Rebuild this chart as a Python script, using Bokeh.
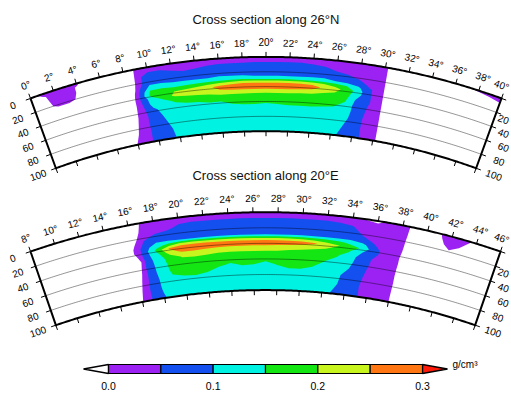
import numpy as np
from bokeh.plotting import figure
from bokeh.models import Range1d
from bokeh.embed import file_html
from bokeh.resources import INLINE
from bokeh.core.properties import value

# ---------------- data (density anomaly, units of 0.01 g/cm^3) ----------------
depth_km = [0, 5, 12, 20, 28, 33, 38, 43, 50, 58, 66, 75, 87, 100]
NO_DATA = [-10, -10, -10, -10, -10, -10, -10, -10, -10, -10, -10, -10, -10, -10]

lon_26N = list(range(0, 41))
# one list per longitude, values from depth 0 down to 100 km
rho_26N = [
    [-5, -5, -5, -5, -5, -5, -5, -5, -5, -5, -5, -5, -5, -5],          # 0
    [3, -1, -2, -3, -5, -5, -5, -5, -5, -5, -5, -5, -5, -5],           # 1
    [3, 3, 3, 2, -4, -5, -5, -5, -5, -5, -5, -5, -5, -5],              # 2
    [3, 3, 3, 2, -4, -5, -5, -5, -5, -5, -5, -5, -5, -5],              # 3
    [1.5, -0.8, -0.8, -1.5, -5, -5, -5, -5, -5, -5, -5, -5, -5, -5],   # 4
    [-5, -5, -5, -5, -5, -5, -5, -5, -5, -5, -5, -5, -5, -5],          # 5
    [-5, -5, -5, -5, -5, -5, -5, -5, -5, -5, -5, -5, -5, -5],          # 6
    [-5, -5, -5, -5, -5, -5, -5, -5, -5, -5, -5, -5, -5, -5],          # 7
    [-20, -18, -15, -12, -10, -8, -7, -6, -5, -4, -3, -2, -1, 0.3],    # 8
    [3, 3, 3, 3, 4, 5, 5.5, 5, 4, 3.5, 3, 3, 3, 3],                    # 9
    [3, 4, 8, 8, 12, 16, 17, 13, 12, 9, 8, 8, 7.5, 7.5],               # 10
    [3, 4, 8, 8, 12, 17, 19, 17, 13, 12, 11, 10, 8.5, 8],              # 11
    [3, 3, 6, 8, 11, 16, 20, 21, 16, 13, 13, 12, 12, 11],              # 12
    [3, 3, 5, 8, 11, 17, 21, 22, 17, 14, 13, 13, 12, 12],              # 13
    [3, 3, 5.5, 8, 11, 18, 22, 22, 18, 14, 13, 13, 13, 12],            # 14
    [3, 3, 7, 8, 11, 19, 24, 23, 18, 15, 13, 13, 13, 12],              # 15
    [3, 4, 7, 8, 12, 20, 27, 24.5, 19, 15, 14, 13, 13, 13],            # 16
    [3, 4, 7, 8, 12, 21.5, 28.5, 25, 19, 16, 14, 13, 13, 13],          # 17
    [3, 4, 7, 8, 12, 23, 29, 25, 19, 16, 14.5, 13, 13, 13],            # 18
    [3, 4, 8, 8, 11, 23, 29, 25, 18.5, 16, 14.5, 13, 13, 13],          # 19
    [3, 4, 8, 8, 11, 23, 29, 25, 18.5, 16, 14, 13, 13, 13],            # 20
    [3, 4, 8, 8, 11, 23, 29, 25, 18.5, 16, 14.5, 13, 13, 13],          # 21
    [3, 4, 8, 8, 11, 23, 29, 25, 18.5, 16, 14.8, 13, 13, 13],          # 22
    [3, 4, 8, 8, 11, 22.5, 29, 24.5, 18, 16, 14.8, 13, 13, 13],        # 23
    [3, 3.5, 7, 8, 11, 21.5, 28, 23.5, 18, 16, 14.8, 13, 13, 13],      # 24
    [3, 3, 6, 8, 11, 20, 24, 21, 18, 16, 14.5, 13, 13, 13],            # 25
    [3, 3, 4, 7, 10, 18, 22, 20, 17, 16, 14, 13, 13, 12],              # 26
    [3, 3, 3, 6, 9, 15, 18, 17, 16, 14, 13, 12, 10, 8],                # 27
    [2, 3, 3, 4, 8, 11, 13, 12, 9, 8, 8, 7.5, 7, 7],                   # 28
    [2, 2, 3, 3, 3.5, 5.5, 5.5, 5.5, 5.5, 5, 4.5, 4, 4, 4],            # 29
    [3, 3, 3, 3, 3, 3, 3, 3, 3, 3, 3, 3, 3, 3],                        # 30
    NO_DATA,                                                           # 31
    NO_DATA,                                                           # 32
    NO_DATA,                                                           # 33
    NO_DATA,                                                           # 34
    NO_DATA,                                                           # 35
    NO_DATA,                                                           # 36
    [-1, -5, -10, -10, -10, -10, -10, -10, -10, -10, -10, -10, -10, -10],  # 37
    [2, -4, -10, -10, -10, -10, -10, -10, -10, -10, -10, -10, -10, -10],   # 38
    [3, -1, -5, -10, -10, -10, -10, -10, -10, -10, -10, -10, -10, -10],    # 39
    [3, 1, -4, -10, -10, -10, -10, -10, -10, -10, -10, -10, -10, -10],     # 40
]

lon_20E = list(range(8, 47))
rho_20E = [
    NO_DATA,                                                           # 8
    NO_DATA,                                                           # 9
    NO_DATA,                                                           # 10
    NO_DATA,                                                           # 11
    NO_DATA,                                                           # 12
    NO_DATA,                                                           # 13
    NO_DATA,                                                           # 14
    NO_DATA,                                                           # 15
    [-25, -15, -8, -4, -1.5, -0.5, -0.5, -3, -8, -6, -4, -2.5, -1.2, -0.3],  # 16
    [3, 3, 3, 4, 6, 8, 8, 8, 7, 7, 6, 6, 6, 5.5],                      # 17
    [3, 3, 3.5, 6, 10, 13, 17, 14, 13, 12, 12, 11, 10.5, 9.5],         # 18
    [3, 3, 4, 7, 10, 17, 25.5, 22.5, 17, 16.5, 15.8, 14.5, 12.5, 12],  # 19
    [3, 4, 6, 8, 9, 20.5, 29, 26, 20.5, 17.5, 16.5, 15, 13, 12.5],     # 20
    [3, 4, 7, 8, 9, 20.5, 29, 26, 20.8, 17.5, 16.5, 15.2, 13, 12.5],   # 21
    [3, 4, 7, 8, 9, 20.5, 29, 25.5, 20.5, 17, 16.5, 14.7, 13, 12.5],   # 22
    [3, 4, 7, 8, 9, 20.5, 29, 25, 20, 16.5, 15.3, 14, 13, 12.5],       # 23
    [3, 4, 7, 8, 9, 20, 29, 24.5, 19.7, 16, 14.7, 13.5, 13, 12.5],     # 24
    [3, 4, 7, 8, 9, 20, 29, 24.5, 19.7, 16, 15.2, 14, 13, 12.5],       # 25
    [3, 4, 7, 8, 9, 20, 29, 24.5, 19.7, 16, 15.1, 14, 13, 12.5],       # 26
    [3, 4, 7, 8, 9, 20, 29, 24.5, 19.7, 15.8, 14.5, 13.5, 13, 12.5],   # 27
    [3, 4, 7, 8, 9, 20, 28.5, 24, 19.5, 16, 15.2, 14, 13, 12.5],       # 28
    [3, 4, 7, 8, 9, 19.5, 28.5, 23.5, 18.5, 16.5, 15.8, 14.5, 13, 12.5],  # 29
    [3, 4, 7, 8, 9, 19, 27.5, 22.5, 18, 16.5, 15.8, 14.5, 13, 12.5],   # 30
    [3, 4, 7, 8, 9, 18.5, 26, 21.5, 17, 16, 15.3, 14, 13, 12.5],       # 31
    [3, 4, 7, 8, 9, 17, 23, 20.3, 17, 15.3, 14, 13, 12.5, 12],         # 32
    [3, 4, 6, 8, 9, 16, 20.5, 18, 15.5, 14, 13, 12, 11, 9],            # 33
    [3, 3, 5.5, 7, 9, 14, 17, 15.5, 13, 12, 10.5, 8, 7.5, 7],          # 34
    [-0.5, 3, 3, 4.5, 6.5, 12, 14.5, 10.5, 8, 7, 6.5, 6, 5.5, 5.5],    # 35
    [-3, 2, 3, 3, 4.5, 5.5, 7, 6.5, 4.8, 4.5, 4, 3.5, 3, 3],           # 36
    [2, 3, 3, 3, 3, 3, 3, 3, 3, 3, 3, 3, 3, 3],                        # 37
    [3, 3, 3, 3, 3, 3, 2.5, 2, 2, 1.5, 1, 1, 0.5, 0],                  # 38
    [-2, -2.5, -3, -4, -5, -6, -7, -8, -9, -10, -10, -10, -10, -10],   # 39
    NO_DATA,                                                           # 40
    [-0.5, -1, -3, -5, -10, -10, -10, -10, -10, -10, -10, -10, -10, -10],  # 41
    [3, 3, 3, -1, -10, -10, -10, -10, -10, -10, -10, -10, -10, -10],       # 42
    [3, 1, -1, -4, -10, -10, -10, -10, -10, -10, -10, -10, -10, -10],      # 43
    [-2, -3, -5, -10, -10, -10, -10, -10, -10, -10, -10, -10, -10, -10],   # 44
    NO_DATA,                                                           # 45
    NO_DATA,                                                           # 46
]

levels = [0.0, 0.05, 0.10, 0.15, 0.20, 0.25, 0.30]
level_colors = ["#9b22f2", "#1450f0", "#00f2e2", "#14e614", "#c8f51e", "#ff7612"]
above_color = "#ff1a0a"
below_color = "white"
cbar_ticks = [0.0, 0.1, 0.2, 0.3]
cbar_labels = ["0.0", "0.1", "0.2", "0.3"]
depth_ticks = [0, 20, 40, 60, 80, 100]
grid_depths = [20, 40, 60, 80]
lon_tick_step = 2
titles = ["Cross section along 26°N", "Cross section along 20°E"]
unit_label = "g/cm³"

# ---------------- layout ----------------
W, H = 511, 394
FONT = value("Liberation Sans")

p = figure(width=W, height=H, x_range=Range1d(0, W), y_range=Range1d(0, H),
           output_backend="svg", toolbar_location=None, min_border=0)
p.axis.visible = False
p.grid.visible = False
p.outline_line_color = None
p.background_fill_color = "white"
p.border_fill_color = "white"

geoms = [
    dict(cx=265.5, cy=745.0, r0=688.6, r100=614.3, title_y=18.5),
    dict(cx=265.0, cy=933.5, r0=721.8, r100=643.9, title_y=174.5),
]
sections = [(lon_26N, rho_26N), (lon_20E, rho_20E)]

TICK = 5.0
LAB_LON = 14.0
LAB_DEP = 19.0
FS = 10.0          # label font size (px)
RIGHT_LIMIT = W - 1.5


def text_halfwidth(s, fs, ang):
    w = sum(0.4 if ch == "°" else 0.556 for ch in s) * fs
    h = 0.72 * fs
    return 0.5 * w * abs(np.cos(ang)) + 0.5 * h * abs(np.sin(ang))


for (lons, rho), geo, title in zip(sections, geoms, titles):
    lo, hi = float(lons[0]), float(lons[-1])
    mid = 0.5 * (lo + hi)
    r0, r100 = geo["r0"], geo["r100"]

    def polar(lon, r, geo=geo, mid=mid):
        th = np.radians(np.asarray(lon, float) - mid)
        return geo["cx"] + r * np.sin(th), H - geo["cy"] + r * np.cos(th)

    def rad(d, r0=r0, r100=r100):
        return r0 - (r0 - r100) * np.asarray(d, float) / 100.0

    LON, DEP = np.meshgrid(np.array(lons, float), np.array(depth_km, float))
    X, Y = polar(LON, rad(DEP))
    Z = np.array(rho, float).T / 100.0
    for k, col in enumerate(level_colors):
        p.contour(x=X, y=Y, z=Z, levels=[levels[k], 9.0], fill_color=[col])

    fine = np.linspace(lo, hi, 240)
    gxs, gys = [], []
    for d in grid_depths:
        gx, gy = polar(fine, rad(d))
        gxs.append(list(gx)); gys.append(list(gy))
    p.multi_line(gxs, gys, line_color="black", line_width=0.6, line_alpha=0.7)

    tx, ty = polar(fine, r0)
    bx, by = polar(fine[::-1], r100)
    fx = list(tx) + list(bx) + [tx[0]]
    fy = list(ty) + list(by) + [ty[0]]
    p.line(fx, fy, line_color="black", line_width=2, line_join="miter")

    # ticks
    txs, tys = [], []
    tick_lons = np.arange(lo, hi + 0.01, lon_tick_step)
    for lon in tick_lons:
        a = polar(lon, r0); b = polar(lon, r0 + TICK)
        txs.append([float(a[0]), float(b[0])]); tys.append([float(a[1]), float(b[1])])
        a = polar(lon, r100); b = polar(lon, r100 - TICK)
        txs.append([float(a[0]), float(b[0])]); tys.append([float(a[1]), float(b[1])])
    thL = np.radians(lo - mid); thR = np.radians(hi - mid)
    outL = (-np.cos(thL), np.sin(thL))
    outR = (np.cos(thR), -np.sin(thR))
    dl_x, dl_y, dl_t, dl_a = [], [], [], []
    for d in depth_ticks:
        for side, edge, out, th in (("L", lo, outL, thL), ("R", hi, outR, thR)):
            px, py = polar(edge, rad(d))
            px, py = float(px), float(py)
            txs.append([px, px + TICK * out[0]]); tys.append([py, py + TICK * out[1]])
            cx_, cy_ = px + LAB_DEP * out[0], py + LAB_DEP * out[1]
            if side == "R":
                if d == 0:
                    continue  # falls beyond the picture edge in the original
                hw = text_halfwidth(str(d), FS, th)
                cx_ = min(cx_, RIGHT_LIMIT - hw)
            dl_x.append(cx_); dl_y.append(cy_)
            dl_t.append(str(d)); dl_a.append(-th)
    p.multi_line(txs, tys, line_color="black", line_width=1)

    # longitude labels
    lx, ly = polar(tick_lons, r0 + LAB_LON)
    lab = [f"{int(v)}°" for v in tick_lons]
    angs = list(-np.radians(tick_lons - mid))
    lx = [min(float(x), RIGHT_LIMIT - text_halfwidth(s, FS, a)) for x, s, a in zip(lx, lab, angs)]
    p.text(x=lx, y=list(ly), text=lab, angle=angs, text_font=FONT,
           text_font_size=f"{FS}px", text_align="center", text_baseline="middle",
           text_color="black")
    p.text(x=dl_x, y=dl_y, text=dl_t, angle=dl_a, text_font=FONT,
           text_font_size=f"{FS}px", text_align="center", text_baseline="middle",
           text_color="black")
    p.text(x=[geo["cx"]], y=[H - geo["title_y"]], text=[title], text_font=FONT,
           text_font_size="13px", text_align="center", text_baseline="middle",
           text_color="#111111")

# ---------------- colour bar ----------------
cb_x0, cb_x1 = 108.0, 422.0
cb_top, cb_bot = H - 364.0, H - 373.0
cb_mid = 0.5 * (cb_top + cb_bot)
vmax = levels[-1]


def cbx(v):
    return cb_x0 + (cb_x1 - cb_x0) * v / vmax


tri = 25.0
p.patch([cbx(levels[0]), cbx(levels[0]) - tri, cbx(levels[0])], [cb_top, cb_mid, cb_bot],
        fill_color=below_color, line_color="black", line_width=1.3)
p.patch([cbx(vmax), cbx(vmax) + tri, cbx(vmax)], [cb_top, cb_mid, cb_bot],
        fill_color=above_color, line_color="black", line_width=1.3)
p.quad(left=[cbx(v) for v in levels[:-1]], right=[cbx(v) for v in levels[1:]],
       top=cb_top, bottom=cb_bot, fill_color=level_colors, line_color="black", line_width=1.2)
p.text(x=[cbx(v) for v in cbar_ticks], y=[H - 385.0] * len(cbar_ticks), text=cbar_labels,
       text_font=FONT, text_font_size="10.5px", text_align="center",
       text_baseline="middle", text_color="black")
p.text(x=[cbx(vmax) + tri + 5], y=[H - 364.0], text=[unit_label], text_font=FONT,
       text_font_size="10px", text_align="left", text_baseline="middle", text_color="black")

open("out.html", "w").write(file_html(p, INLINE))
